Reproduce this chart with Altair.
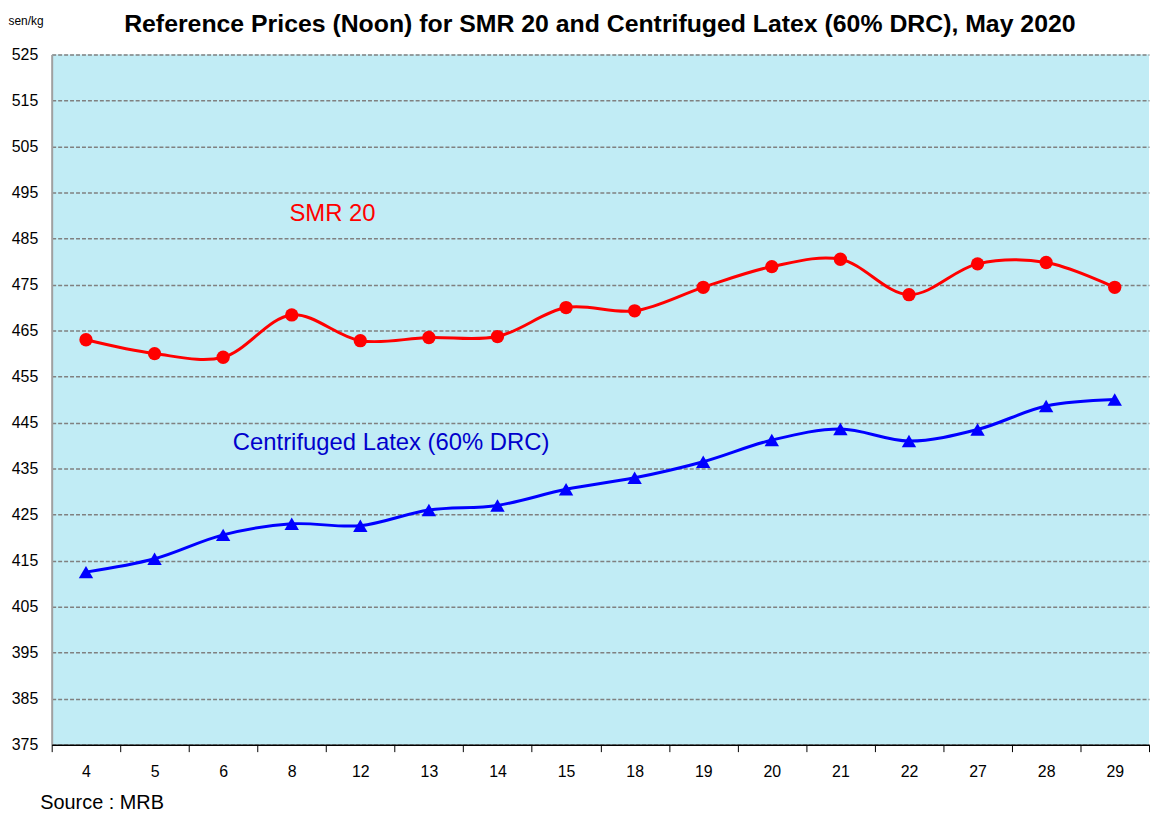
import altair as alt
import pandas as pd

days = ["4", "5", "6", "8", "12", "13", "14", "15", "18", "19", "20", "21", "22", "27", "28", "29"]
smr20 = [463.0, 460.0, 459.2, 468.4, 462.8, 463.5, 463.7, 470.0, 469.3, 474.4, 478.9, 480.5, 472.8, 479.5, 479.8, 474.4]
latex = [412.5, 415.4, 420.6, 423.0, 422.6, 426.0, 427.0, 430.5, 433.0, 436.5, 441.2, 443.6, 441.0, 443.5, 448.6, 450.0]
y_ticks = list(range(375, 526, 10))

title_text = ["Reference Prices (Noon) for SMR 20 and Centrifuged Latex (60% DRC), May 2020"]
FONT = "Liberation Sans"

smr_df = pd.DataFrame({"day": days, "price": smr20})
lat_df = pd.DataFrame({"day": days, "price": latex})
ann_smr = pd.DataFrame({"day": ["8"], "price": [490.3], "label": ["SMR 20"]})
ann_lat = pd.DataFrame({"day": ["12"], "price": [440.6], "label": ["Centrifuged Latex (60% DRC)"]})
title_df = pd.DataFrame({"label": title_text})

x_enc = alt.X(
    "day:N",
    sort=days,
    scale=alt.Scale(type="band", paddingInner=0, paddingOuter=0),
    axis=alt.Axis(
        title="Source : MRB",
        titleFont=FONT,
        titleFontSize=20,
        titleFontWeight="normal",
        titleColor="#000000",
        titleX=-12,
        titleY=58,
        titleAlign="left",
        titleBaseline="middle",
        labelAngle=0,
        labelFont=FONT,
        labelFontSize=16,
        labelColor="#000000",
        labelPadding=12,
        tickBand="extent",
        tickSize=7,
        tickColor="#000000",
        domainColor="#000000",
        domainWidth=1.5,
        grid=False,
        zindex=2,
    ),
)

y_enc = alt.Y(
    "price:Q",
    scale=alt.Scale(domain=[375, 525], nice=False, zero=False),
    axis=alt.Axis(
        values=y_ticks,
        title="sen/kg",
        titleFont=FONT,
        titleFontSize=12,
        titleFontWeight="normal",
        titleColor="#000000",
        titleAngle=0,
        titleX=-44,
        titleY=-34,
        titleAlign="left",
        titleBaseline="middle",
        labelFont=FONT,
        labelFontSize=16,
        labelColor="#000000",
        labelPadding=14,
        ticks=False,
        domainColor="#a0a0a0",
        domainWidth=2,
        grid=True,
        gridColor="#808080",
        gridDash=[4, 2],
        gridWidth=1.5,
    ),
)

x_plain = alt.X("day:N", sort=days)

smr_line = alt.Chart(smr_df).mark_line(
    color="#FF0000", strokeWidth=3, interpolate="catmull-rom"
).encode(x=x_enc, y=y_enc)
smr_pts = alt.Chart(smr_df).mark_point(
    shape="circle", filled=True, color="#FF0000", size=180, opacity=1
).encode(x=x_plain, y="price:Q")

lat_line = alt.Chart(lat_df).mark_line(
    color="#0000FF", strokeWidth=3, interpolate="catmull-rom"
).encode(x=x_plain, y="price:Q")
lat_pts = alt.Chart(lat_df).mark_point(
    shape="triangle-up", filled=True, color="#0000FF", size=210, opacity=1
).encode(x=x_plain, y="price:Q")

smr_txt = alt.Chart(ann_smr).mark_text(
    font=FONT, fontSize=24, color="#FF0000", dx=41, align="center", baseline="middle"
).encode(x=x_plain, y="price:Q", text="label:N")
lat_txt = alt.Chart(ann_lat).mark_text(
    font=FONT, fontSize=24, color="#0000CC", dx=31, align="center", baseline="middle"
).encode(x=x_plain, y="price:Q", text="label:N")

title_txt = alt.Chart(title_df).mark_text(
    font=FONT, fontSize=25, fontWeight="bold", color="#000000",
    align="center", baseline="middle", clip=False
).encode(x=alt.value(552), y=alt.value(-31), text="label:N")

chart = alt.layer(smr_line, smr_pts, lat_line, lat_pts, smr_txt, lat_txt, title_txt).properties(
    width=1105,
    height=695,
    autosize=alt.AutoSizeParams(type="none"),
    padding={"left": 44, "top": 44, "right": 2, "bottom": 72},
).configure_view(fill="#C1ECF5", strokeWidth=0)

chart.save("out.html", embed_options={"renderer": "svg", "actions": False})
